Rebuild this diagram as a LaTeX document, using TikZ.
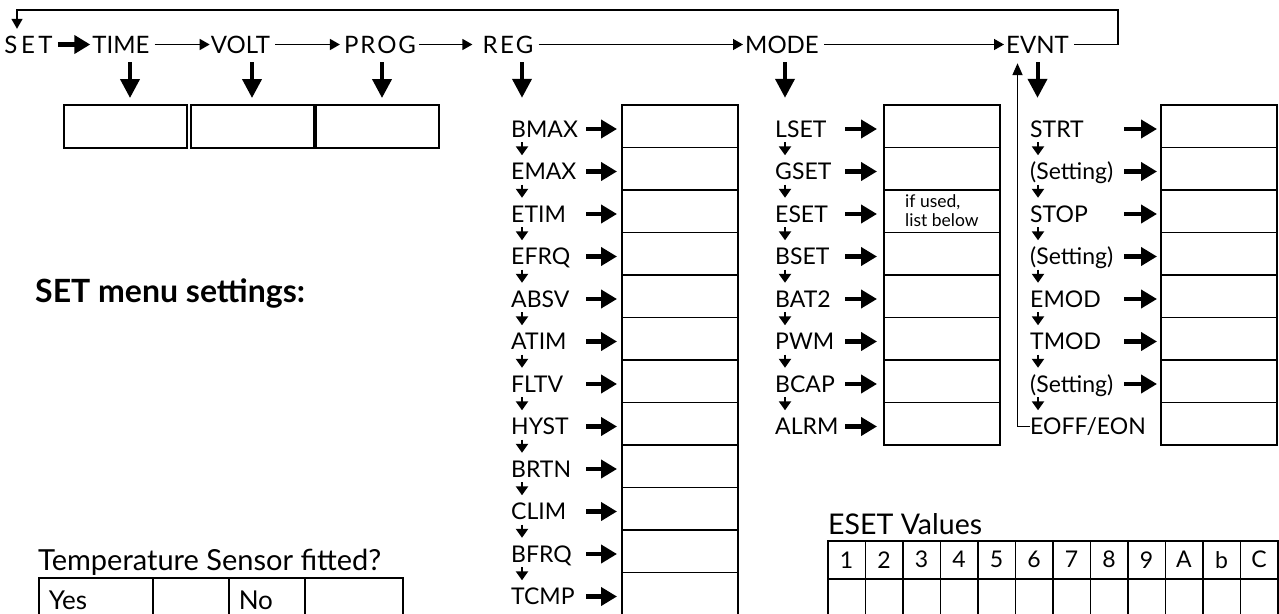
\documentclass[tikz,border=0pt]{standalone}
\usepackage{fontspec}
\setmainfont{Lato}
\usetikzlibrary{arrows.meta}

\begin{document}
\begin{tikzpicture}[x=1pt,y=-1pt]
    \tikzset{
        head/.style={
            font=\fontsize{24}{28}\selectfont,anchor=base,
            inner sep=0pt,text height=17pt,text depth=0pt
        },
        item/.style={
            font=\fontsize{23}{27}\selectfont,anchor=base west,align=left,
            inner sep=0pt,text height=16pt,text depth=0pt
        },
        cell/.style={
            draw,line width=1.5pt,anchor=north west,inner sep=0pt,
            minimum width=116pt,minimum height=42.5pt
        },
        topcell/.style={
            draw,line width=1.5pt,anchor=north west,inner sep=0pt,
            minimum width=123pt,minimum height=43pt
        },
        tabcell/.style={
            draw,line width=1.5pt,anchor=north west,inner sep=0pt,
            minimum width=37.5pt,minimum height=38pt,
            font=\fontsize{23}{27}\selectfont
        },
        tempcell/.style={
            draw,line width=1.5pt,anchor=north west,inner xsep=10pt,
            inner ysep=0pt,minimum height=45pt,align=left,
            font=\fontsize{26}{30}\selectfont
        },
        title/.style={font=\fontsize{28.5}{32}\selectfont,anchor=base west,inner sep=0pt},
        fatarr/.style={line width=4.5pt,-{Triangle[length=16pt,width=18pt]}},
        downarr/.style={line width=4pt,-{Triangle[length=19pt,width=19pt]},shorten <=9pt},
        flowarr/.style={line width=1.5pt,-{Triangle[length=10pt,width=11pt]}},
        nextarr/.style={line width=2.3pt,-{Triangle[length=9pt,width=12pt]},
            shorten <=5pt,shorten >=8pt},
        uparr/.style={line width=1.8pt,-{Triangle[length=12pt,width=10pt]}}
    }
    \useasboundingbox (0,0) rectangle (1279,613);

    % top row of the menu
    \node[head] (set) at (28.5,53) {{\addfontfeature{LetterSpace=15}SET}};
    \node[head] (time) at (121,53) {TIME};
    \node[head] (volt) at (240.5,53) {VOLT};
    \node[head] (prog) at (380,53) {{\addfontfeature{LetterSpace=8}PROG}};
    \node[head] (reg) at (508,53) {{\addfontfeature{LetterSpace=10}REG}};
    \node[head] (mode) at (782,53) {MODE};
    \node[head] (evnt) at (1037.5,53) {EVNT};

    \draw[fatarr,shorten <=5pt,shorten >=2pt] (set.east) -- (time.west);
    \draw[flowarr,shorten <=5pt,shorten >=1pt] (time.east) -- (volt.west);
    \draw[flowarr,shorten <=5pt,shorten >=4pt] (volt.east) -- (prog.west);
    \draw[flowarr,shorten <=3pt,shorten >=10pt] (prog.east) -- (reg.west);
    \draw[flowarr,shorten <=5pt,shorten >=2pt] (reg.east) -- (mode.west);
    \draw[flowarr,shorten <=5pt,shorten >=2pt] (mode.east) -- (evnt.west);

    \coordinate (loopr) at (1118,10);
    \coordinate (loopl) at (17,10);
    \draw[flowarr,shorten <=5pt,shorten >=7pt] (evnt.east) -| (loopr)
        -- (loopl) -- (loopl |- set.north);

    \node[topcell] (timebox) at (63,104) {};
    \node[topcell] (voltbox) at (190,104) {};
    \node[topcell] (progbox) at (315,104) {};
    \draw[downarr,shorten >=6pt] ([xshift=9pt]time.south)
        -- ([xshift=9pt]time.south |- timebox.north);
    \draw[downarr,shorten >=6pt] ([xshift=11.5pt]volt.south)
        -- ([xshift=11.5pt]volt.south |- voltbox.north);
    \draw[downarr,shorten >=6pt] ([xshift=2pt]prog.south)
        -- ([xshift=2pt]prog.south |- progbox.north);

    % REG column
    \foreach \lbl [count=\k from 0] in {BMAX,EMAX,ETIM,EFRQ,ABSV,ATIM,
                                        FLTV,HYST,BRTN,CLIM,BFRQ,TCMP}{
        \node[item,text width=72pt] (r\k) at (511,137+42.5*\k) {\lbl};
        \node[cell] (rbox\k) at (621,104+42.5*\k) {};
        \draw[fatarr,shorten <=3pt,shorten >=4pt] (r\k.east) -- (r\k.east -| rbox\k.west);
    }
    \foreach \k [evaluate=\k as \j using int(\k+1)] in {0,...,10}
        \draw[nextarr] ([xshift=11pt]r\k.south west) -- ([xshift=11pt]r\j.north west);
    \draw[downarr,shorten >=23pt] ([xshift=14pt]reg.south)
        -- ([xshift=14pt]reg.south |- r0.north);

    % MODE column
    \foreach \lbl [count=\k from 0] in {LSET,GSET,ESET,BSET,BAT2,PWM,BCAP,ALRM}{
        \node[item,text width=68pt] (m\k) at (775,137+42.5*\k) {\lbl};
        \node[cell] (mbox\k) at (883,104+42.5*\k) {};
        \draw[fatarr,shorten <=2pt,shorten >=6pt] (m\k.east) -- (m\k.east -| mbox\k.west);
    }
    \foreach \k [evaluate=\k as \j using int(\k+1)] in {0,...,6}
        \draw[nextarr] ([xshift=10pt]m\k.south west) -- ([xshift=10pt]m\j.north west);
    \draw[downarr,shorten >=23pt] ([xshift=3pt]mode.south)
        -- ([xshift=3pt]mode.south |- m0.north);
    \node[anchor=base west,align=left,inner sep=0pt,
          font=\fontsize{17.5}{18.5}\selectfont] (esetnote) at (905,226)
        {if used,\\list below};

    % EVNT column
    \foreach \lbl [count=\k from 0] in {STRT,(Setting),STOP,(Setting),
                                        EMOD,TMOD,(Setting),EOFF/EON}{
        \node[item,text width=92pt] (e\k) at (1030,137+42.5*\k) {\lbl};
        \node[cell] (ebox\k) at (1160,104+42.5*\k) {};
        \ifnum\k<7
            \draw[fatarr,shorten <=2pt,shorten >=3pt] (e\k.east) -- (e\k.east -| ebox\k.west);
        \fi
    }
    \foreach \k [evaluate=\k as \j using int(\k+1)] in {0,...,6}
        \draw[nextarr] ([xshift=8pt]e\k.south west) -- ([xshift=8pt]e\j.north west);
    \draw[downarr,shorten >=23pt] (evnt.south) -- (evnt.south |- e0.north);
    \draw[uparr,shorten >=10pt] (e7.west) -| ([xshift=-20pt]evnt.south);

    % notes and tables
    \node[anchor=base west,inner sep=0pt,font=\fontsize{32}{36}\selectfont\bfseries]
        (heading) at (35,302) {SET menu settings:};

    \node[title] (esettitle) at (828,534) {ESET Values};
    \foreach \v [count=\i from 0] in {1,2,3,4,5,6,7,8,9,A,b,C}{
        \node[tabcell] (eset\i) at (827+37.5*\i,540) {\v};
        \node[tabcell] (esetv\i) at (827+37.5*\i,578) {};
    }

    \node[title,font=\fontsize{29}{33}\selectfont] (temptitle) at (38,570)
        {Temperature Sensor fitted?};
    \node[tempcell,text width=94pt] (yes) at (38,577) {Yes};
    \node[tempcell,text width=56pt] (yesv) at (152,577) {};
    \node[tempcell,text width=56pt] (no) at (228,577) {No};
    \node[tempcell,text width=78pt] (nov) at (304,577) {};
\end{tikzpicture}
\end{document}
